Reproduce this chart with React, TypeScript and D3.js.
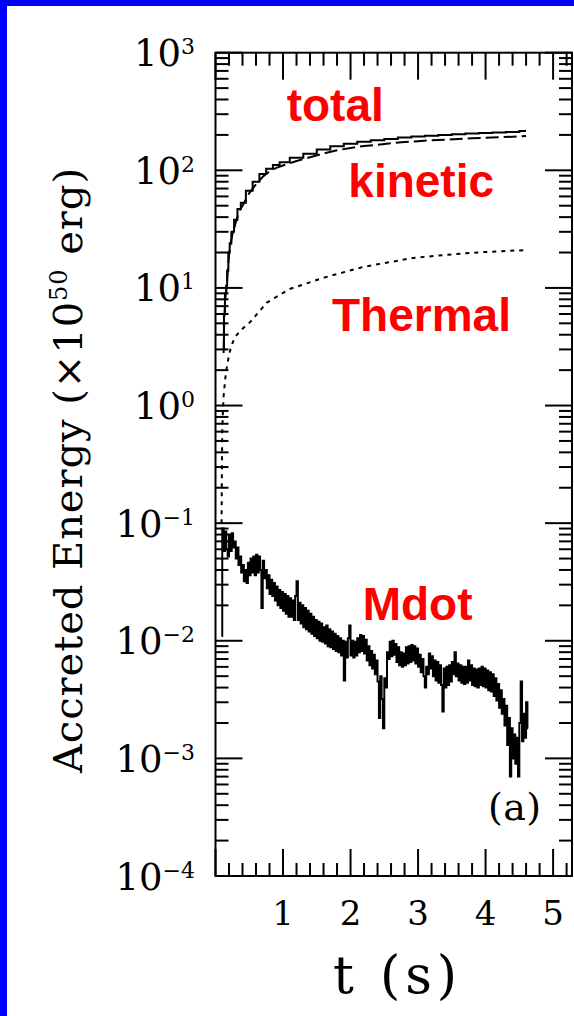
import React from "react";
import * as d3 from "d3";

const xTickLabels = ["1", "2", "3", "4", "5"];
const xMajorTicks = [0, 1, 2, 3, 4, 5];
const yExponents = [3, 2, 1, 0, -1, -2, -3, -4];

const totalT = [0.12, 0.13, 0.15, 0.165, 0.18, 0.2, 0.22, 0.25, 0.3, 0.35, 0.4, 0.5, 0.6, 0.7, 0.8, 0.9, 1.0, 1.2, 1.4, 1.6, 1.8, 2.0, 2.2, 2.4, 2.6, 2.8, 3.0, 3.2, 3.4, 3.6, 3.8, 4.0, 4.2, 4.4, 4.6];
const totalE = [3, 6, 9, 10.5, 14, 20, 24, 30, 38, 47, 53, 67, 80, 93, 103, 111, 117, 128, 138, 150, 160, 168, 175, 180, 185, 190, 194, 197, 200, 203, 206, 208, 210, 212, 216];
const kineticE = [2.8, 5.7, 8.6, 10, 13.4, 19, 23, 28.5, 36, 45, 50, 64, 76, 88, 98, 105, 110, 120, 129, 139, 148, 155, 161, 165, 170, 174, 177, 180, 182, 185, 187, 189, 191, 193, 196];

const thermalT = [0.09, 0.095, 0.1, 0.11, 0.12, 0.14, 0.16, 0.19, 0.22, 0.26, 0.3, 0.4, 0.51, 0.76, 1.1, 1.6, 2.19, 2.93, 3.5, 3.92, 4.3, 4.61];
const thermalE = [0.1, 0.3, 0.6, 0.9, 1.2, 1.6, 2.0, 2.5, 3.0, 3.5, 3.9, 4.5, 5.1, 7.5, 9.8, 12.2, 15.1, 18, 19.3, 20.1, 20.6, 21];

const mdotStart = 0.09;
const mdotStep = 0.02;
const mdotE = [
  0.011, 0.090, 0.058, 0.085, 0.060, 0.052, 0.080, 0.058, 0.082, 0.062,
  0.070, 0.050, 0.062, 0.044, 0.052, 0.038, 0.044, 0.032, 0.040, 0.031,
  0.046, 0.036, 0.050, 0.038, 0.052, 0.036, 0.054, 0.038, 0.052, 0.040,
  0.019, 0.048, 0.034, 0.040, 0.028, 0.036, 0.025, 0.033, 0.024, 0.031,
  0.022, 0.029, 0.020, 0.027, 0.019, 0.026, 0.018, 0.025, 0.017, 0.024,
  0.016, 0.023, 0.016, 0.022, 0.015, 0.024, 0.032, 0.015, 0.021, 0.014,
  0.020, 0.013, 0.019, 0.0125, 0.018, 0.012, 0.017, 0.0115, 0.016, 0.011,
  0.015, 0.0105, 0.0145, 0.010, 0.014, 0.0098, 0.013, 0.0095, 0.0135, 0.0090,
  0.0125, 0.0088, 0.012, 0.0085, 0.0115, 0.0082, 0.011, 0.0080, 0.0105, 0.0075,
  0.0100, 0.0046, 0.0098, 0.0072, 0.0105, 0.0135, 0.0075, 0.0100, 0.0072, 0.0098,
  0.0075, 0.0105, 0.0080, 0.0112, 0.0082, 0.0110, 0.0078, 0.0102, 0.0068, 0.0090,
  0.0062, 0.0082, 0.0058, 0.0076, 0.0052, 0.0068, 0.0045, 0.0022, 0.0050, 0.0032,
  0.0018, 0.0048, 0.0040, 0.0080, 0.0070, 0.0098, 0.0074, 0.0100, 0.0076, 0.0094,
  0.0066, 0.0088, 0.0062, 0.0080, 0.0060, 0.0078, 0.0062, 0.0088, 0.0064, 0.0090,
  0.0066, 0.0092, 0.0068, 0.0090, 0.0064, 0.0086, 0.0060, 0.0076, 0.0054, 0.0070,
  0.0050, 0.0040, 0.0060, 0.0052, 0.0078, 0.0058, 0.0074, 0.0050, 0.0068, 0.0046,
  0.0066, 0.0044, 0.0062, 0.0042, 0.0025, 0.0058, 0.0040, 0.0060, 0.0042, 0.0062,
  0.0045, 0.0066, 0.0052, 0.0080, 0.0050, 0.0064, 0.0046, 0.0062, 0.0044, 0.0060,
  0.0043, 0.0060, 0.0044, 0.0068, 0.0046, 0.0062, 0.0042, 0.0058, 0.0041, 0.0057,
  0.0040, 0.0058, 0.0042, 0.0060, 0.0041, 0.0058, 0.0040, 0.0056, 0.0038, 0.0054,
  0.0037, 0.0052, 0.0034, 0.0048, 0.0031, 0.0043, 0.0027, 0.0038, 0.0024, 0.0032,
  0.0019, 0.0028, 0.0013, 0.0022, 0.0007, 0.0018, 0.0010, 0.0016, 0.0009, 0.0015,
  0.0007, 0.0020, 0.0045, 0.0014, 0.0024, 0.0015, 0.0030, 0.0018
];

const W = 574;
const H = 1016;
const L = 215.5, R = 572, T = 52.7, B = 876;

export default function App() {
  const x = d3.scaleLinear().domain([0, 5.28]).range([L, R]);
  const y = d3.scaleLog().domain([1e-4, 1e3]).range([B, T]);

  const xMinor = d3.range(0, 5.3, 0.2).filter((v) => Math.abs(v - Math.round(v)) > 1e-6);
  const yMinor: number[] = [];
  for (let e = -4; e < 3; e++) for (let m = 2; m <= 9; m++) yMinor.push(m * Math.pow(10, e));

  const line = d3.line<[number, number]>().x((d) => x(d[0])).y((d) => y(d[1]));
  const stepLine = d3.line<[number, number]>().x((d) => x(d[0])).y((d) => y(d[1])).curve(d3.curveStep);

  const totalPts = totalT.map((t, i) => [t, totalE[i]] as [number, number]);
  const kinPts = totalT.map((t, i) => [t, kineticE[i]] as [number, number]);
  const thPts = thermalT.map((t, i) => [t, thermalE[i]] as [number, number]);
  const mdotPts = mdotE.map((v, i) => [mdotStart + i * mdotStep, v] as [number, number]);

  const serif = "'DejaVu Serif', serif";
  const sans = "'Liberation Sans', Arial, sans-serif";
  const majorLen = 27, minorLen = 13;

  return (
    <div style={{ position: "absolute", left: 0, top: 0 }}>
      <svg width={W} height={H} viewBox={`0 0 ${W} ${H}`} style={{ display: "block" }}>
        <rect x={0} y={0} width={W} height={H} fill="#0000ff" />
        <rect x={7} y={6} width={W - 7} height={H - 6} fill="#ffffff" />
        <defs>
          <clipPath id="plotclip">
            <rect x={L} y={T} width={R - L} height={B - T} />
          </clipPath>
        </defs>

        <g clipPath="url(#plotclip)" fill="none" stroke="#000">
          <path d={stepLine(mdotPts) || ""} strokeWidth={2} />
          <path d={line(thPts) || ""} strokeWidth={2} strokeDasharray="4,5" />
          <path d={line(kinPts) || ""} strokeWidth={2} strokeDasharray="13,5" />
          <path d={stepLine(totalPts) || ""} strokeWidth={2} />
        </g>

        <rect x={L} y={T} width={R - L} height={B - T} fill="none" stroke="#000" strokeWidth={2} />

        <g stroke="#000" strokeWidth={2}>
          {xMajorTicks.map((v) => (
            <g key={"xM" + v}>
              <line x1={x(v)} x2={x(v)} y1={B} y2={B - majorLen} />
              <line x1={x(v)} x2={x(v)} y1={T} y2={T + majorLen} />
            </g>
          ))}
          {xMinor.map((v) => (
            <g key={"xm" + v}>
              <line x1={x(v)} x2={x(v)} y1={B} y2={B - minorLen} />
              <line x1={x(v)} x2={x(v)} y1={T} y2={T + minorLen} />
            </g>
          ))}
          {yExponents.map((e) => (
            <g key={"yM" + e}>
              <line x1={L} x2={L + majorLen} y1={y(Math.pow(10, e))} y2={y(Math.pow(10, e))} />
              <line x1={R} x2={R - majorLen} y1={y(Math.pow(10, e))} y2={y(Math.pow(10, e))} />
            </g>
          ))}
          {yMinor.map((v, i) => (
            <g key={"ym" + i}>
              <line x1={L} x2={L + minorLen} y1={y(v)} y2={y(v)} />
              <line x1={R} x2={R - minorLen} y1={y(v)} y2={y(v)} />
            </g>
          ))}
        </g>

        {xTickLabels.map((s, i) => (
          <text key={"xl" + s} x={x(i + 1)} y={925} fontFamily={serif} fontSize={34} textAnchor="middle" fill="#000">
            {s}
          </text>
        ))}

        {yExponents.map((e) => (
          <text key={"yl" + e} x={195} y={y(Math.pow(10, e)) + 13.5} fontFamily={serif} fontSize={37} textAnchor="end" fill="#000">
            10
            <tspan dy={-12} fontSize={22}>{e < 0 ? "\u2212" + Math.abs(e) : String(e)}</tspan>
          </text>
        ))}

        <text x={333} y={993} fontFamily={serif} fontSize={52} textLength={124} lengthAdjust="spacing" fill="#000">
          t (s)
        </text>
        <text transform="translate(82,773) rotate(-90)" fontFamily={serif} fontSize={40} fill="#000" textLength={605} lengthAdjust="spacing">
          Accreted Energy (×10<tspan dy={-15} fontSize={24}>50</tspan><tspan dy={15}> erg)</tspan>
        </text>

        <g fontFamily={sans} fontWeight="bold" fontSize={46} fill="#ff0000">
          <text x={286.7} y={120.7}>total</text>
          <text x={348.3} y={196.7}>kinetic</text>
          <text x={332} y={331}>Thermal</text>
          <text x={362.7} y={620}>Mdot</text>
        </g>
        <text x={488} y={820} fontFamily={serif} fontSize={38} textLength={53} lengthAdjust="spacing" fill="#000">(a)</text>
      </svg>
    </div>
  );
}
